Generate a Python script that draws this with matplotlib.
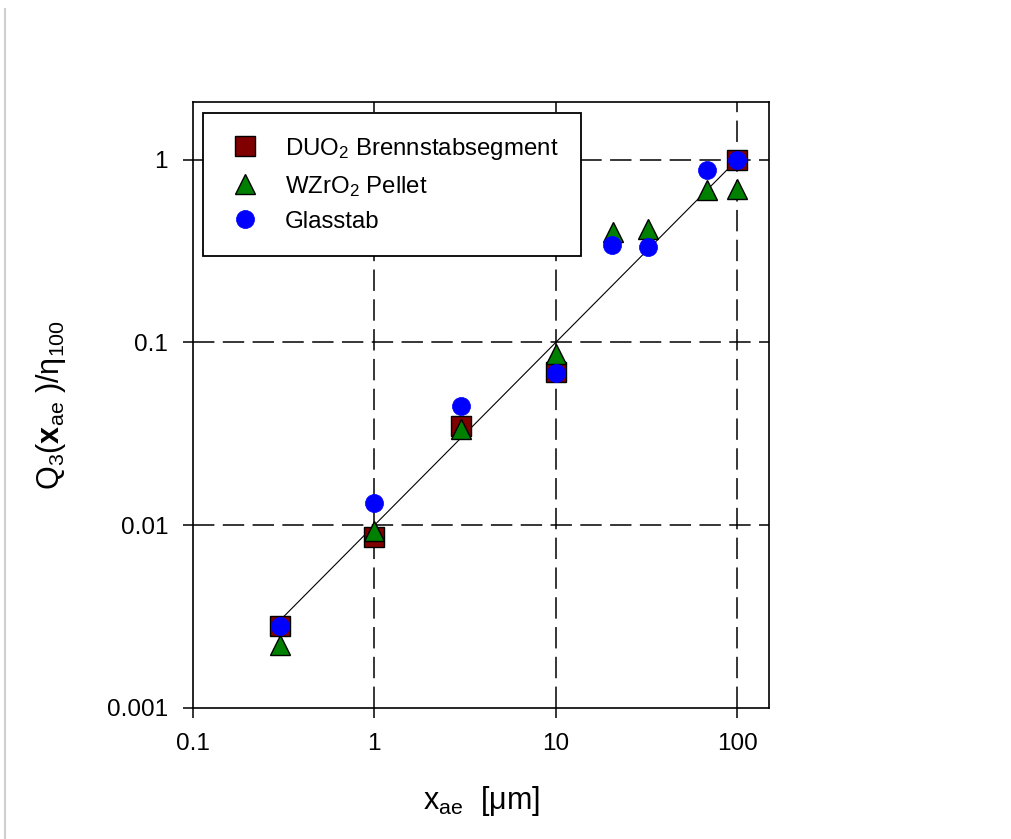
import matplotlib
matplotlib.use("Agg")
import matplotlib.pyplot as plt
from matplotlib.lines import Line2D
from matplotlib.ticker import FixedLocator, FixedFormatter, NullLocator

plt.rcParams['font.family'] = ['Liberation Sans', 'DejaVu Sans']
plt.rcParams['mathtext.fontset'] = 'custom'
plt.rcParams['mathtext.rm'] = 'Liberation Sans'
plt.rcParams['mathtext.it'] = 'Liberation Sans'
plt.rcParams['mathtext.bf'] = 'Liberation Sans:bold'

# ---- data ----
duo2_x = [0.3, 1, 3, 10, 100]
duo2_y = [0.0028, 0.0086, 0.035, 0.069, 1.0]

wzro2_x = [0.3, 1, 3, 10, 20.8, 32.4, 68.5, 100]
wzro2_y = [0.0022, 0.0093, 0.0335, 0.087, 0.40, 0.42, 0.68, 0.69]

glas_x = [0.3, 1, 3, 10, 20.5, 32.4, 68.5, 100]
glas_y = [0.0028, 0.0132, 0.0447, 0.068, 0.343, 0.335, 0.88, 1.0]

fit_x = [0.3, 100]
fit_y = [0.003, 1.0]

xticks = [0.1, 1, 10, 100]
xticklabels = ['0.1', '1', '10', '100']
yticks = [0.001, 0.01, 0.1, 1]
yticklabels = ['0.001', '0.01', '0.1', '1']

labels = ['DUO$_2$ Brennstabsegment', 'WZrO$_2$ Pellet', 'Glasstab']

# ---- figure ----
W, H = 1011, 839
fig = plt.figure(figsize=(W / 100, H / 100), dpi=100)
ax = fig.add_axes([193 / W, 1 - 708 / H, (769 - 193) / W, (708 - 102) / H])

ax.set_xscale('log')
ax.set_yscale('log')
ax.set_xlim(0.1, 150)
ax.set_ylim(0.001, 2.07)

# grid
for xv in xticks[1:]:
    ax.axvline(xv, color='black', lw=1.1, dashes=(14, 5.5), zorder=1)
for yv in yticks[1:]:
    ax.axhline(yv, color='black', lw=1.1, dashes=(14, 5.5), zorder=1)

ax.plot(fit_x, fit_y, color='black', lw=0.8, zorder=2)

h1, = ax.plot(duo2_x, duo2_y, ls='none', marker='s', ms=14, mfc='#800000',
              mec='black', mew=1.0, zorder=3)
h2, = ax.plot(wzro2_x, wzro2_y, ls='none', marker='^', ms=14.5, mfc='#008000',
              mec='black', mew=1.0, zorder=4)
h3, = ax.plot(glas_x, glas_y, ls='none', marker='o', ms=13, mfc='#0000ff',
              mec='#0000ff', mew=0.5, zorder=5)

ax.xaxis.set_major_locator(FixedLocator(xticks))
ax.xaxis.set_major_formatter(FixedFormatter(xticklabels))
ax.yaxis.set_major_locator(FixedLocator(yticks))
ax.yaxis.set_major_formatter(FixedFormatter(yticklabels))
ax.xaxis.set_minor_locator(NullLocator())
ax.yaxis.set_minor_locator(NullLocator())

ax.tick_params(axis='both', which='major', direction='out', length=7, width=1.1,
               labelsize=17.5, pad=11, colors='black')

for sp in ax.spines.values():
    sp.set_linewidth(1.2)

ax.set_xlabel('x$_{ae}$  [μm]', fontsize=22, labelpad=21)
ax.set_ylabel('Q$_3$($\\mathbf{x}$$_{ae}$ )/η$_{100}$', fontsize=22, labelpad=28)

leg = ax.legend([h1, h2, h3], labels, loc='upper left',
                bbox_to_anchor=(203 / W, 1 - 113 / H), bbox_transform=fig.transFigure,
                borderaxespad=0, fontsize=17.3, frameon=True, fancybox=False,
                edgecolor='black', framealpha=1, labelspacing=0.5,
                handlelength=1.6, handletextpad=0.85, borderpad=0.95,
                markerscale=1.0)
leg.get_frame().set_linewidth(1.3)
leg.set_zorder(10)

# page border line at left
fig.add_artist(Line2D([5 / W, 5 / W], [0, 1 - 9 / H], transform=fig.transFigure,
                      color='#cfcfcf', lw=1.5))

fig.savefig('out.png', dpi=100)
